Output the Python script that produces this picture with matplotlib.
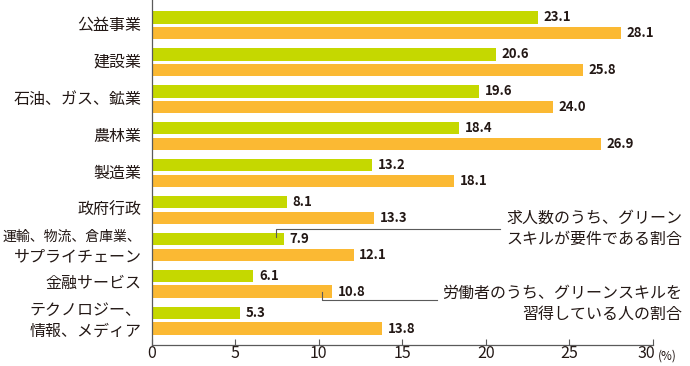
import matplotlib
matplotlib.use('Agg')
import matplotlib.pyplot as plt
import matplotlib.transforms as mtransforms
import numpy as np

# data
categories = ['公益事業', '建設業', '石油、ガス、鉱業', '農林業', '製造業', '政府行政',
              '運輸、物流、倉庫業、\nサプライチェーン', '金融サービス', 'テクノロジー、\n情報、メディア']
job_posts = [23.1, 20.6, 19.6, 18.4, 13.2, 8.1, 7.9, 6.1, 5.3]   # green
workers = [28.1, 25.8, 24.0, 26.9, 18.1, 13.3, 12.1, 10.8, 13.8]  # orange
xticks = [0, 5, 10, 15, 20, 25, 30]
note_posts = '求人数のうち、グリーン\nスキルが要件である割合'
note_workers = '労働者のうち、グリーンスキルを\n習得している人の割合'

GREEN = '#c5d800'
ORANGE = '#fbb933'
TXT = '#231815'
LINE = '#5a5a5a'

plt.rcParams['font.family'] = ['Noto Sans CJK JP', 'DejaVu Sans']
plt.rcParams['text.color'] = TXT

fig = plt.figure(figsize=(6.9, 3.66), dpi=100)
ax = fig.add_axes([0.2196, 0.0587, 0.7268, 0.9413])

y = np.arange(len(categories))
h = 0.333
off = 0.21
ax.barh(y - off, job_posts, height=h, color=GREEN, zorder=2)
ax.barh(y + off, workers, height=h, color=ORANGE, zorder=2)

ax.set_xlim(0, 30)
ax.set_ylim(len(categories) - 1 + 0.642, -0.683)

# value labels
for i in range(len(categories)):
    for yy, v in ((y[i] - off, job_posts[i]), (y[i] + off, workers[i])):
        ax.annotate('%.1f' % v, xy=(v, yy), xytext=(4, 0), textcoords='offset points',
                    ha='left', va='center', fontsize=9.5, fontweight='bold')

# category labels (drawn per line so the long one can be a bit smaller)
trans = mtransforms.blended_transform_factory(ax.transAxes, ax.transData)
for i, lab in enumerate(categories):
    lines = lab.split('\n')
    n = len(lines)
    for k, line in enumerate(lines):
        dy = (k - (n - 1) / 2) * 0.56
        fs = 11.5
        if len(line) > 9:
            fs = 10
        ax.text(-0.02, y[i] + dy, line, transform=trans, ha='right', va='center',
                fontsize=fs)

ax.set_yticks([])
ax.set_xticks(xticks)
ax.set_xticklabels([str(t) for t in xticks])
ax.tick_params(axis='x', direction='in', length=4, pad=0, labelsize=11.5,
               color=LINE, labelcolor=TXT, width=0.8)
# last label sits a little left so the unit fits after it
last = ax.get_xticklabels()[-1]
last.set_transform(last.get_transform() +
                   mtransforms.ScaledTranslation(-4.5 / 72, 0, fig.dpi_scale_trans))
for s in ['top', 'right']:
    ax.spines[s].set_visible(False)
for s in ['left', 'bottom']:
    ax.spines[s].set_color(LINE)
    ax.spines[s].set_linewidth(0.9)

fig.text(0.954, 0.027, '(%)', fontsize=8.5, ha='left', va='center')

# callouts
ax.plot([7.46, 7.46, 20.87], [5.73, 5.504, 5.504], color=LINE, lw=0.8,
        clip_on=False, zorder=3)
ax.text(31.75, 5.51, note_posts, ha='right', va='center', fontsize=11.5,
        linespacing=1.3, multialignment='right', clip_on=False)

ax.plot([10.19, 10.19, 17.08], [7.22, 7.45, 7.45], color=LINE, lw=0.8,
        clip_on=False, zorder=3)
ax.text(31.75, 7.55, note_workers, ha='right', va='center', fontsize=11.5,
        linespacing=1.3, multialignment='right', clip_on=False)

fig.savefig('out.png', dpi=100)
